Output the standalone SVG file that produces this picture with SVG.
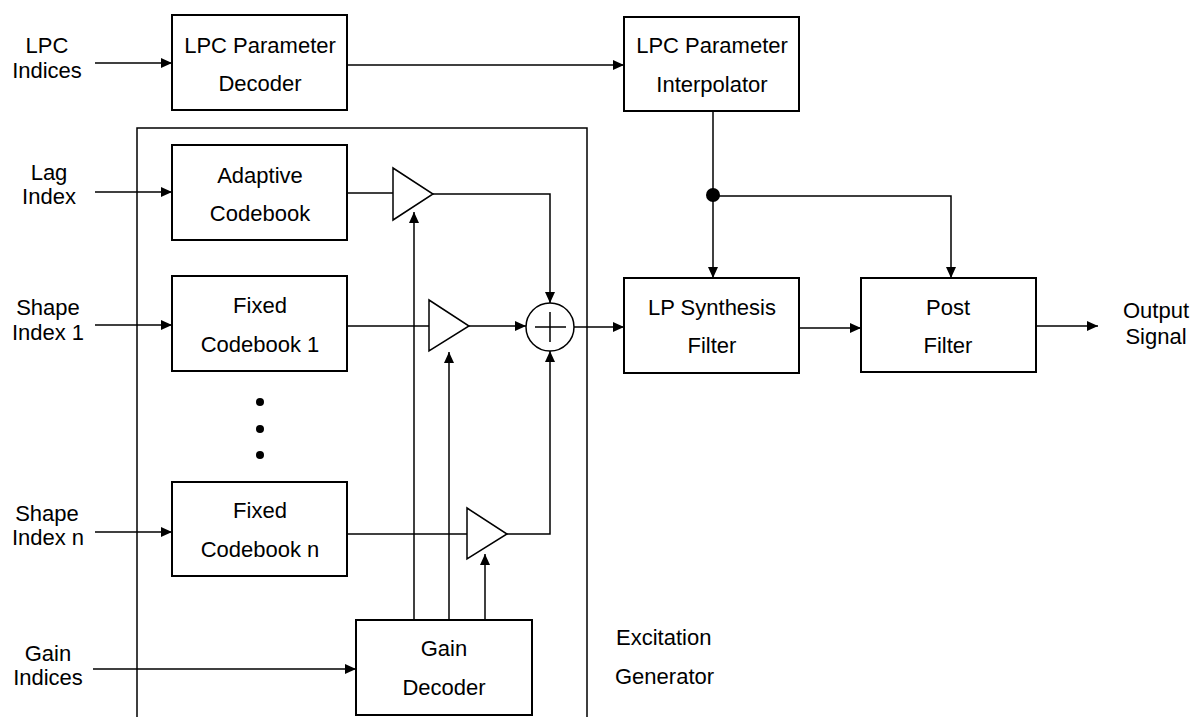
<svg xmlns="http://www.w3.org/2000/svg" width="1192" height="717" viewBox="0 0 1192 717">
<style>
text{font-family:"Liberation Sans",Arial,sans-serif;font-size:22px;fill:#000;text-anchor:middle}
.box{fill:#fff;stroke:#000;stroke-width:2}
.ln{fill:none;stroke:#000;stroke-width:1.5}
.amp{fill:#fff;stroke:#000;stroke-width:1.5}
.lt{text-anchor:start}
</style>
<defs>
<marker id="ah" viewBox="0 0 11 10" refX="11" refY="5" markerWidth="11" markerHeight="10" markerUnits="userSpaceOnUse" orient="auto">
<path d="M0,0 L11,5 L0,10 z" fill="#000"/>
</marker>
</defs>
<rect width="1192" height="717" fill="#fff"/>
<g id="frame">
<path class="ln" d="M137,717 V128 H587 V717"/>
<text class="lt" x="616" y="645">Excitation</text>
<text class="lt" x="615" y="684">Generator</text>
</g>
<g id="connectors">
<line class="ln" x1="95" y1="63" x2="172" y2="63" marker-end="url(#ah)"/>
<line class="ln" x1="347" y1="65" x2="624" y2="65" marker-end="url(#ah)"/>
<line class="ln" x1="95" y1="192" x2="172" y2="192" marker-end="url(#ah)"/>
<line class="ln" x1="95" y1="325" x2="172" y2="325" marker-end="url(#ah)"/>
<line class="ln" x1="95" y1="532" x2="172" y2="532" marker-end="url(#ah)"/>
<line class="ln" x1="93" y1="669" x2="356" y2="669" marker-end="url(#ah)"/>
<line class="ln" x1="347" y1="193" x2="397" y2="193"/>
<line class="ln" x1="347" y1="326" x2="433" y2="326"/>
<line class="ln" x1="347" y1="534" x2="471" y2="534"/>
<path class="ln" d="M433,194 H550 V303" marker-end="url(#ah)"/>
<line class="ln" x1="469" y1="326" x2="526" y2="326" marker-end="url(#ah)"/>
<path class="ln" d="M507,534 H550 V351" marker-end="url(#ah)"/>
<line class="ln" x1="574" y1="327" x2="624" y2="327" marker-end="url(#ah)"/>
<line class="ln" x1="414" y1="620" x2="414" y2="212" marker-end="url(#ah)"/>
<line class="ln" x1="449" y1="620" x2="449" y2="352" marker-end="url(#ah)"/>
<line class="ln" x1="485" y1="620" x2="485" y2="554" marker-end="url(#ah)"/>
<line class="ln" x1="713" y1="111" x2="713" y2="278" marker-end="url(#ah)"/>
<path class="ln" d="M713,196 H951 V278" marker-end="url(#ah)"/>
<circle cx="713" cy="195" r="7" fill="#000"/>
<line class="ln" x1="799" y1="328" x2="861" y2="328" marker-end="url(#ah)"/>
<line class="ln" x1="1036" y1="326" x2="1098" y2="326" marker-end="url(#ah)"/>
</g>
<g id="in-lpc"><text x="47" y="53">LPC</text><text x="47" y="78">Indices</text></g>
<g id="in-lag"><text x="49" y="180">Lag</text><text x="49" y="204">Index</text></g>
<g id="in-shape1"><text x="48" y="315">Shape</text><text x="48" y="340">Index 1</text></g>
<g id="in-shapen"><text x="47" y="521">Shape</text><text x="48" y="545">Index n</text></g>
<g id="in-gain"><text x="48" y="661">Gain</text><text x="48" y="685">Indices</text></g>
<g id="lpc-decoder"><rect class="box" x="172" y="15" width="175" height="95"/><text x="260" y="53">LPC Parameter</text><text x="260" y="91">Decoder</text></g>
<g id="lpc-interp"><rect class="box" x="624" y="17" width="175" height="94"/><text x="712" y="53">LPC Parameter</text><text x="712" y="92">Interpolator</text></g>
<g id="adaptive"><rect class="box" x="172" y="145" width="175" height="95"/><text x="260" y="183">Adaptive</text><text x="260" y="221">Codebook</text></g>
<g id="fixed1"><rect class="box" x="172" y="276" width="175" height="95"/><text x="260" y="313">Fixed</text><text x="260" y="352">Codebook 1</text></g>
<g id="dots"><circle cx="260" cy="402" r="4"/><circle cx="260" cy="429" r="4"/><circle cx="260" cy="455" r="4"/></g>
<g id="fixedn"><rect class="box" x="172" y="482" width="175" height="94"/><text x="260" y="518">Fixed</text><text x="260" y="557">Codebook n</text></g>
<g id="gain-decoder"><rect class="box" x="356" y="620" width="176" height="95"/><text x="444" y="656">Gain</text><text x="444" y="695">Decoder</text></g>
<g id="amp1"><polygon class="amp" points="393,168 433,194 393,220"/></g>
<g id="amp2"><polygon class="amp" points="429,300 469,326 429,351"/></g>
<g id="ampn"><polygon class="amp" points="467,508 507,534 467,559"/></g>
<g id="summer"><circle class="amp" cx="550" cy="327" r="24"/><path class="ln" d="M535,327 H566 M550,312 V342"/></g>
<g id="lp-synth"><rect class="box" x="624" y="278" width="175" height="95"/><text x="712" y="315">LP Synthesis</text><text x="712" y="353">Filter</text></g>
<g id="post"><rect class="box" x="861" y="278" width="175" height="94"/><text x="948" y="315">Post</text><text x="948" y="353">Filter</text></g>
<g id="out"><text x="1156" y="318">Output</text><text x="1156" y="344">Signal</text></g>
</svg>
